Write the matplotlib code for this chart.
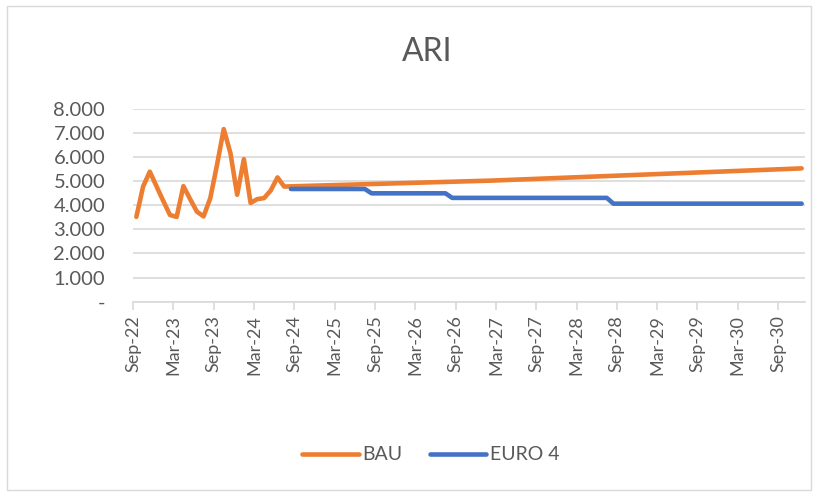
import numpy as np
import pandas as pd
import matplotlib
matplotlib.use("Agg")
import matplotlib.pyplot as plt
from matplotlib.patches import Rectangle
from matplotlib.ticker import FuncFormatter

# monthly categories Sep-22 .. Dec-30
months = pd.date_range("2022-09-01", "2030-12-01", freq="MS")

bau = [3520, 4780, 5400, 4790, 4185, 3600, 3520, 4800, 4260, 3740,
       3540, 4300, 5680, 7170, 6170, 4440, 5920, 4100, 4260, 4300,
       4620, 5160, 4780,
       4790, 4798, 4806, 4814, 4822, 4830, 4838, 4846, 4854, 4862,
       4870, 4878, 4886, 4894, 4902, 4910, 4918, 4926, 4934, 4942,
       4950, 4958, 4966, 4974, 4982, 4990, 4998, 5006, 5014, 5022,
       5030, 5041, 5052, 5063, 5074, 5085, 5096, 5107, 5118, 5129,
       5140, 5151, 5162, 5173, 5184, 5195, 5206, 5217, 5228, 5239,
       5250, 5261, 5272, 5283, 5294, 5305, 5316, 5327, 5338, 5349,
       5360, 5371, 5382, 5393, 5404, 5415, 5426, 5437, 5448, 5459,
       5470, 5481, 5492, 5503, 5514, 5525, 5536]

euro4 = [np.nan] * 23 + [4680] * 12 + [4500] * 12 + [4310] * 24 + [4070] * 29

series_names = ["BAU", "EURO 4"]
colors = ["#ED7D31", "#4472C4"]

plt.rcParams['font.family'] = ['Lato', 'DejaVu Sans']
grey_txt = "#595959"
grid_col = "#d9d9d9"

fig = plt.figure(figsize=(8.18, 4.96), dpi=100)
ax = fig.add_axes([0.1626, 0.392, 0.8215, 0.388])

x = np.arange(len(months))
ax.plot(x, bau, color=colors[0], lw=3.3, solid_capstyle="round",
        solid_joinstyle="round", label=series_names[0], zorder=3)
ax.plot(x, euro4, color=colors[1], lw=3.3, solid_capstyle="round",
        solid_joinstyle="round", label=series_names[1], zorder=3)

ax.set_xlim(-0.5, len(months) - 0.5)
ax.set_ylim(0, 8000)
ax.set_yticks(np.arange(0, 8001, 1000))
ax.yaxis.set_major_formatter(FuncFormatter(
    lambda v, p: "-" if v == 0 else f"{int(v):,}".replace(",", ".")))
tick_pos = np.arange(0, len(months), 6) - 0.5
ax.set_xticks(tick_pos)
ax.set_xticklabels([months[i].strftime("%b-%y") for i in range(0, len(months), 6)],
                   rotation=90)

ax.grid(axis="y", color=grid_col, lw=1.2)
ax.set_axisbelow(True)
for s in ["top", "right", "left"]:
    ax.spines[s].set_visible(False)
ax.spines["bottom"].set_color(grid_col)
ax.spines["bottom"].set_linewidth(1.2)
ax.tick_params(axis="y", length=0, pad=20, labelsize=14.5, labelcolor=grey_txt)
ax.tick_params(axis="x", length=6, width=1.2, color=grid_col, pad=4,
               labelsize=13, labelcolor=grey_txt)

fig.text(0.522, 0.895, "ARI", ha="center", va="center", fontsize=23, color=grey_txt)

leg = fig.legend(loc="center", bbox_to_anchor=(0.527, 0.083), ncol=2, frameon=False,
                 fontsize=14, handlelength=2.9, handletextpad=0.2, columnspacing=1.4)
for t in leg.get_texts():
    t.set_color(grey_txt)

fig.patches.append(Rectangle((0.008, 0.012), 0.984, 0.975, transform=fig.transFigure,
                             fill=False, edgecolor=grid_col, lw=1.0))

fig.savefig("out.png", dpi=100)
